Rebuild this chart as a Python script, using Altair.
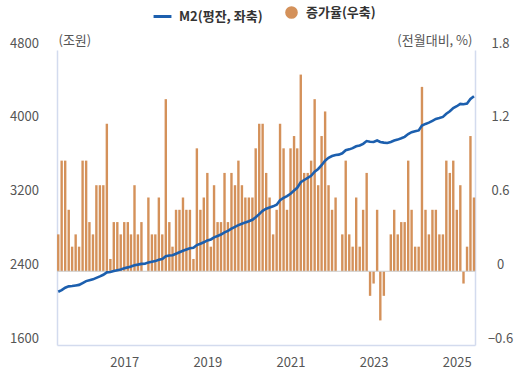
import altair as alt
import pandas as pd

# monthly observations, June 2015 .. June 2025
months = pd.date_range("2015-06-01", periods=121, freq="MS").strftime("%Y-%m-%dT00:00:00").tolist()

m2_level = [
    2178, 2195, 2222, 2236, 2240, 2246, 2252, 2272, 2293, 2303,
    2312, 2328, 2344, 2362, 2388, 2392, 2402, 2412, 2420, 2432,
    2442, 2452, 2466, 2472, 2480, 2482, 2496, 2503, 2510, 2524,
    2532, 2562, 2570, 2574, 2590, 2606, 2622, 2636, 2650, 2654,
    2684, 2698, 2714, 2734, 2745, 2768, 2782, 2798, 2822, 2838,
    2862, 2882, 2900, 2916, 2930, 2942, 2958, 2985, 3020, 3055,
    3078, 3092, 3104, 3122, 3170, 3195, 3215, 3240, 3275, 3305,
    3365, 3390, 3412, 3435, 3480, 3510, 3550, 3600, 3630, 3650,
    3662, 3665, 3680, 3712, 3722, 3735, 3756, 3764, 3782, 3812,
    3805, 3802, 3818, 3802, 3795, 3792, 3802, 3818, 3828, 3842,
    3858, 3888, 3908, 3918, 3928, 3980, 3998, 4012, 4032, 4052,
    4062, 4074, 4108, 4135, 4170, 4190, 4215, 4212, 4220, 4268,
    4298,
]

growth_rate = [
    0.3, 0.9, 0.9, 0.5, 0.2, 0.3, 0.2, 0.9, 0.9, 0.4,
    0.3, 0.7, 0.7, 0.7, 1.2, 0.1, 0.4, 0.4, 0.3, 0.4,
    0.4, 0.3, 0.7, 0.3, 0.4, 0.0, 0.6, 0.3, 0.3, 0.6,
    0.3, 1.4, 0.4, 0.2, 0.5, 0.5, 0.6, 0.5, 0.5, 0.1,
    1.0, 0.5, 0.6, 0.8, 0.2, 0.7, 0.4, 0.4, 0.8, 0.4,
    0.8, 0.7, 0.9, 0.7, 0.6, 0.6, 0.6, 1.0, 1.2, 1.2,
    0.8, 0.6, 0.3, 0.5, 1.2, 1.0, 0.5, 1.0, 1.1, 1.0,
    1.6, 0.8, 0.8, 0.9, 1.4, 0.7, 1.1, 1.3, 0.7, 0.5,
    0.6, 0.0, 0.3, 0.9, 0.3, 0.2, 0.6, 0.2, 0.5, 0.8,
    -0.2, -0.1, 0.5, -0.4, -0.2, 0.0, 0.3, 0.5, 0.3, 0.4,
    0.4, 0.9, 0.5, 0.2, 0.2, 1.5, 0.5, 0.3, 0.5, 0.5,
    0.3, 0.3, 0.9, 0.8, 0.9, 0.5, 0.7, -0.1, 0.2, 1.1,
    0.6,
]

year_ticks = [2017, 2019, 2021, 2023, 2025]
left_ticks = [1600, 2400, 3200, 4000, 4800]
right_ticks = [-0.6, 0.0, 0.6, 1.2, 1.8]
series_line = "M2(평잔, 좌축)"
series_bar = "증가율(우축)"

df = pd.DataFrame({"date": months, "m2": m2_level, "growth": growth_rate,
                   "s_line": series_line, "s_bar": series_bar})

FONT = "Noto Sans CJK KR"
AXIS_BLUE = "#d3dbee"
LINE_BLUE = "#1c5fae"
BAR_ORANGE = "#d4915a"

x_enc = alt.X(
    "date:T",
    title=None,
    scale=alt.Scale(domain=[alt.DateTime(year=2015, month=5, date=21),
                            alt.DateTime(year=2025, month=6, date=10)],
                    padding=0),
    axis=alt.Axis(values=[alt.DateTime(year=y, month=1, date=1) for y in year_ticks],
                  format="%Y", grid=False, ticks=False, tickSize=0, labelPadding=11,
                  labelFontSize=13, labelColor="#555555", labelFont=FONT,
                  domainColor=AXIS_BLUE, domainWidth=1.5),
)

bars = alt.Chart(df).mark_bar(width=2.4).encode(
    x=x_enc,
    y=alt.Y("growth:Q", title="(전월대비, %)",
            scale=alt.Scale(domain=[-0.6, 1.8], nice=False, zero=False),
            axis=alt.Axis(orient="right", values=right_ticks, grid=False, ticks=False, tickSize=0,
                          labelExpr="datum.value == 0 ? '0' : format(datum.value, '.1f')",
                          labelAlign="center", labelBaseline="bottom", labelPadding=25,
                          labelFontSize=13, labelColor="#555555", labelFont=FONT,
                          domainColor=AXIS_BLUE, domainWidth=1.5,
                          titleAngle=0, titleAlign="right", titleBaseline="middle",
                          titleX=-3, titleY=-10, titleFontSize=13, titleFontWeight="normal",
                          titleColor="#555555", titleFont=FONT)),
    fill=alt.Fill("s_bar:N", scale=alt.Scale(range=[BAR_ORANGE]),
                  legend=alt.Legend(orient="none", legendX=228, legendY=-44, title=None,
                                    symbolType="circle", symbolSize=160, symbolStrokeWidth=0,
                                    labelFontSize=13, labelFontWeight="bold", labelColor="#333333",
                                    labelFont=FONT, labelOffset=8, padding=0)),
)

zero_rule = alt.Chart(pd.DataFrame({"z": [0.0]})).mark_rule(color="#cccccc", strokeWidth=1).encode(
    y=alt.Y("z:Q", scale=alt.Scale(domain=[-0.6, 1.8], nice=False, zero=False), axis=None),
)

line = alt.Chart(df).mark_line(strokeWidth=2.6).encode(
    x=x_enc,
    y=alt.Y("m2:Q", title="(조원)",
            scale=alt.Scale(domain=[1600, 4800], nice=False, zero=False),
            axis=alt.Axis(orient="left", values=left_ticks, format="d", grid=False, ticks=False,
                          tickSize=0, labelAlign="center", labelBaseline="bottom", labelPadding=33,
                          labelFontSize=13, labelColor="#555555", labelFont=FONT,
                          domainColor=AXIS_BLUE, domainWidth=1.5,
                          titleAngle=0, titleAlign="left", titleBaseline="middle",
                          titleX=1, titleY=-10, titleFontSize=13, titleFontWeight="normal",
                          titleColor="#555555", titleFont=FONT)),
    stroke=alt.Stroke("s_line:N", scale=alt.Scale(range=[LINE_BLUE]),
                      legend=alt.Legend(orient="none", legendX=95, legendY=-44, title=None,
                                        symbolType="stroke", symbolSize=320, symbolStrokeWidth=3,
                                        labelFontSize=13, labelFontWeight="bold", labelColor="#333333",
                                        labelFont=FONT, labelOffset=6, padding=0)),
)

chart = alt.layer(bars, zero_rule, line).resolve_scale(
    y="independent", fill="independent", stroke="independent"
).properties(
    width=418, height=295,
    padding={"left": 57, "top": 50, "right": 51, "bottom": 31},
    autosize=alt.AutoSizeParams(type="none"),
).configure_view(stroke=None)

chart.save("out.html", embed_options={"renderer": "svg", "actions": False})
